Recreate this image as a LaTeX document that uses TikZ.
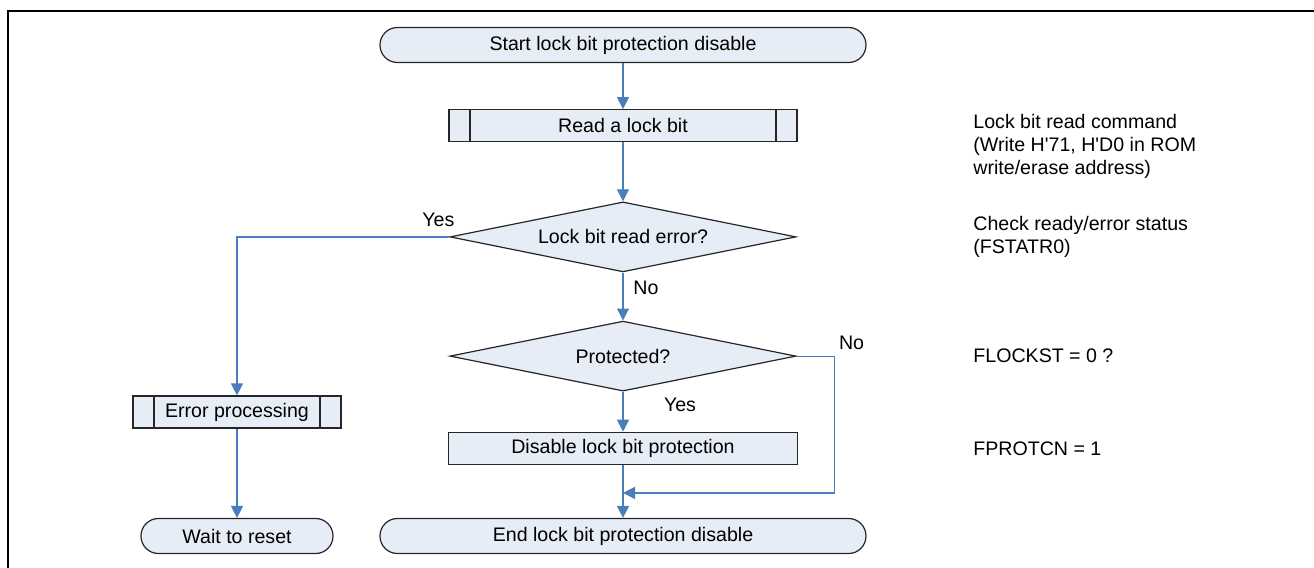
\documentclass[tikz,border=0pt]{standalone}
\usepackage{fontspec}
\setmainfont{Liberation Sans}
\usepackage{tikz}
\usetikzlibrary{
  positioning,
  arrows.meta,
  shapes.geometric
}
\definecolor{boxfill}{HTML}{E6EDF7}
\definecolor{flowblue}{HTML}{4A7EBB}
\tikzset{
  box/.style={
    draw=black!85,
    fill=boxfill,
    line width=0.6pt,
    inner sep=2pt,
  },
  term/.style={
    box,
    rectangle,
    rounded corners=8.7pt,
    minimum height=17.5pt,
  },
  proc/.style={
    box,
    rectangle,
    minimum height=16pt,
  },
  subproc/.style={
    proc,
    path picture={
      \draw[black!85, line width=0.6pt]
        ([xshift=10.5pt]path picture bounding box.north west) -- ([xshift=10.5pt]path picture bounding box.south west)
        ([xshift=-10.5pt]path picture bounding box.north east) -- ([xshift=-10.5pt]path picture bounding box.south east);
    },
  },
  decision/.style={
    box,
    diamond,
    aspect=4.9,
    inner sep=0pt,
    minimum width=173pt,
    minimum height=35pt,
  },
  flow/.style={
    ->,
    >={Triangle[length=6pt,width=6pt]},
    draw=flowblue,
    line width=0.6pt,
  },
  note/.style={
    anchor=west,
    align=left,
    inner sep=0pt,
  },
  branch/.style={
    inner sep=0pt,
  },
}

\begin{document}
\begin{tikzpicture}[font=\fontsize{9.8pt}{11.5pt}\selectfont]
		\useasboundingbox (0,0) rectangle (657pt,-284pt);
		\draw[line width=1pt] (657pt,-5.5pt) -- (4pt,-5.5pt) -- (4pt,-284pt);

		% nodes
		\node[term, minimum width=243pt] (start) at (311.5pt,-22.5pt) {Start lock bit protection disable};
		\node[subproc, minimum width=174pt, below=23pt of start] (read) {Read a lock bit};
		\node[decision, below=29.5pt of read] (rderr) {Lock bit read error?};
		\node[decision, below=24pt of rderr] (prot) {Protected?};
		\node[proc, minimum width=174.5pt, below=20pt of prot] (dis) {Disable lock bit protection};
		\node[term, minimum width=243pt, below=26.5pt of dis] (endn) {End lock bit protection disable};
		\node[subproc, minimum width=104pt] (err) at (118.5pt,-206pt) {Error processing};
		\node[term, minimum width=96pt] (wait) at (err |- endn) {Wait to reset};

		% notes
		\node[note] (n1) at (486.5pt,-73pt) {Lock bit read command\\(Write H\textquotesingle 71, H\textquotesingle D0 in ROM\\write/erase address)};
		\node[note] (n2) at (n1.west |- rderr) {Check ready/error status\\(FSTATR0)};
		\node[note] (n3) at (n1.west |- prot) {FLOCKST = 0 ?};
		\node[note] (n4) at (n1.west |- dis) {FPROTCN = 1};

		% edges
		\draw[flow] (start) -- (read);
		\draw[flow] (read) -- (rderr);
		\draw[flow] (rderr) -- (prot);
		\draw[flow] (prot) -- (dis);
		\draw[flow] (dis) -- (endn);
		\draw[flow] (rderr.west) -| (err.north);
		\draw[flow] (err) -- (wait);
		\coordinate (join) at ([yshift=-14pt]dis.south);
		\draw[flow] (prot.east) -- ++(19pt,0) |- (join);

		% branch labels
		\node[branch] (y1) at ([xshift=-5.5pt,yshift=8.5pt]rderr.west) {Yes};
		\node[branch] (n1b) at ([xshift=11.5pt,yshift=-7.5pt]rderr.south) {No};
		\node[branch] (n2b) at ([xshift=27.5pt,yshift=6.5pt]prot.east) {No};
		\node[branch] (y2) at ([xshift=28.5pt,yshift=-6.5pt]prot.south) {Yes};
	\end{tikzpicture}
\end{document}
